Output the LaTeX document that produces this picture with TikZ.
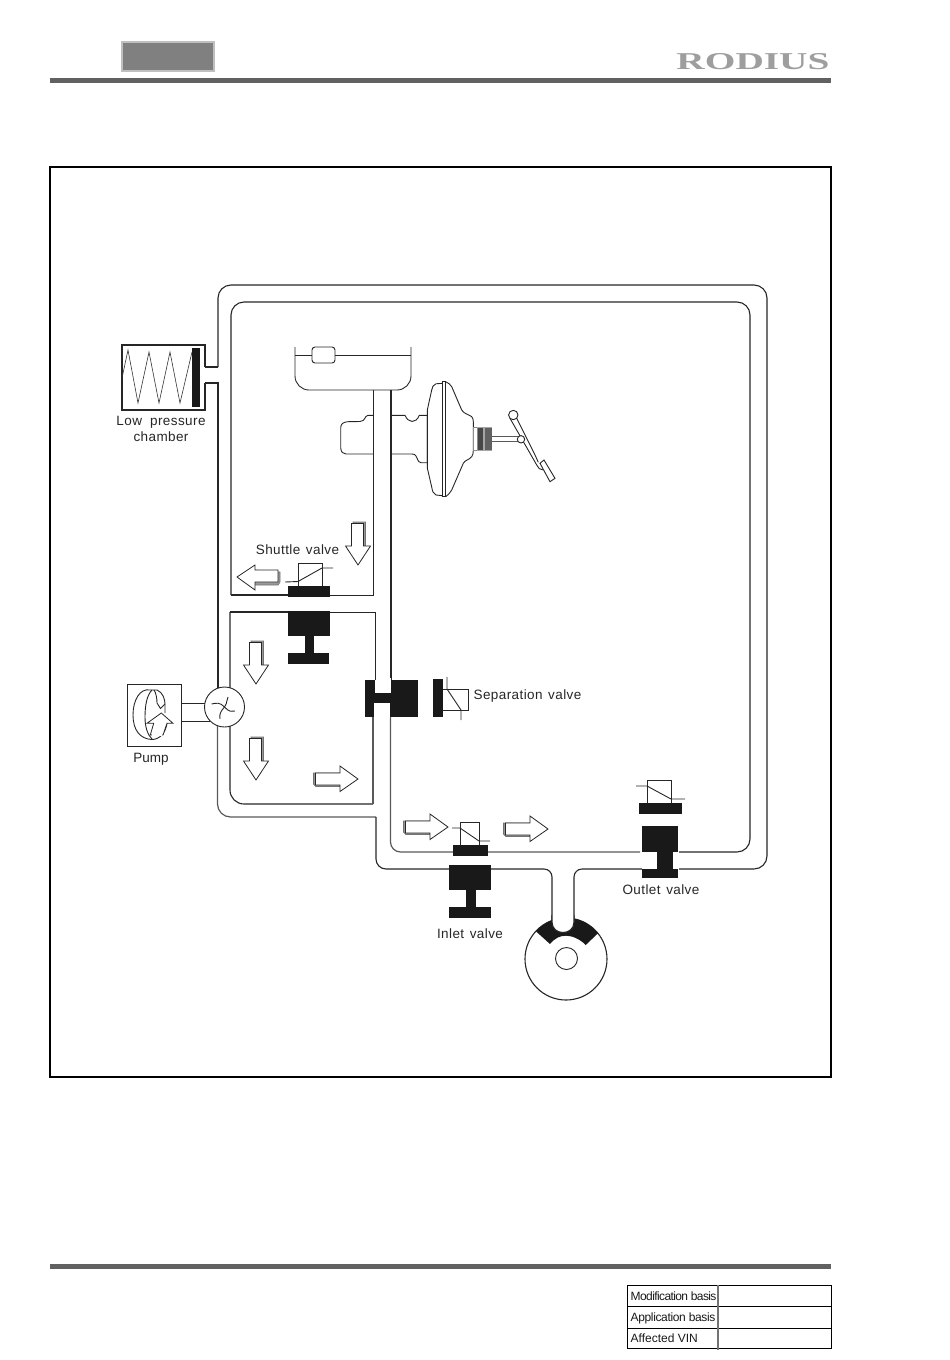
\documentclass[tikz,border=0pt]{standalone}
\usepackage{fontspec}
\usepackage{graphicx}
\setmainfont{Liberation Sans}
\newfontfamily\labelfont[LetterSpace=3]{Liberation Sans}
\newfontfamily\tablefont[LetterSpace=-5]{Liberation Sans}
\newfontfamily\tablefontb[LetterSpace=-3]{Liberation Sans}
\newfontfamily\logofont{Liberation Serif}
\newcommand{\wsp}{\hspace{1.5pt} }
\tikzset{
  pipe/.style={draw=black!85,line width=1.1pt},
  pipegrey/.style={draw=black!65,line width=1.2pt},
  thin/.style={draw=black!85,line width=0.9pt},
  blk/.style={fill=black!90,draw=none},
  lab/.style={font=\labelfont\fontsize{13.5}{16}\selectfont,inner sep=0pt,align=center,text=black!85},
  tab/.style={font=\tablefont\fontsize{12}{14}\selectfont,inner sep=0pt,anchor=west,text=black!90},
  arrowfront/.style={fill=white,draw=black!85,line width=0.8pt,line join=miter},
  arrowback/.style={fill=black!40,draw=black!55,line width=0.7pt},
}
\newcommand{\flowdown}[2]{%
  \begin{scope}[shift={(#1,#2)}]
   \path[arrowback] (-5,-43)--(7.5,-43)--(7.5,-19)--(5,-17)--cycle;
   \path[arrowfront] (-6.5,-41.5)--(5.5,-41.5)--(5.5,-19)--(12.5,-19)--(0,0)--(-12.5,-19)--(-6.5,-19)--cycle;
  \end{scope}}
\newcommand{\flowright}[2]{%
  \begin{scope}[shift={(#1,#2)}]
   \path[arrowback] (-44.5,-6)--(-18,-6)--(-18,7.5)--(-42,7.5)--(-44.5,5)--cycle;
   \path[arrowfront] (-42.5,-6)--(-18,-6)--(-18,-13)--(0,0)--(-18,12.5)--(-18,6)--(-42.5,6)--cycle;
  \end{scope}}
\newcommand{\flowleft}[2]{%
  \begin{scope}[shift={(#1,#2)}]
   \path[arrowback] (18,-7)--(43,-5)--(43,5)--(41,8)--(18,8)--cycle;
   \path[arrowfront] (0,0)--(18,-12)--(18,-7)--(41,-7)--(41,5)--(18,5)--(18,13)--cycle;
  \end{scope}}
\begin{document}
\begin{tikzpicture}[x=1pt,y=-1pt]
\useasboundingbox (0,0) rectangle (950,1360);
% header
\path[fill=black!50,draw=black!25,line width=1.5pt] (122,42) rectangle (214,71);
\fill[black!62] (50,78) rectangle (831,83);
\node[font=\logofont\bfseries\fontsize{20}{20}\selectfont,text=black!38,inner sep=0pt] (logo) at (753,62) {\resizebox{153pt}{16pt}{RODIUS}};
% frame
\draw[black,line width=1.5pt] (50,167) rectangle (831,1077);
% reservoir
\draw[thin,rounded corners=14pt] (295,347)--(295,390)--(411,390)--(411,347);
\draw[thin] (295,355)--(312,355) (335,355)--(411,355);
\draw[thin,rounded corners=3pt] (312,347) rectangle (335,363);
% master cylinder
\draw[thin] (373,415.3)--(368,415.3) .. controls (364,416) and (366,421) .. (360,421.5)--(348,421.7) .. controls (343,422) and (340.7,424) .. (340.7,428)--(340.7,448) .. controls (341,452) and (343,454) .. (346,454)--(373,454);
\draw[thin] (391,415.3)--(405,415.3) .. controls (408,423) and (416,424) .. (419.3,415.3)--(427.3,415.3)--(427.3,462.7)--(421,462.7) .. controls (417,462) and (418,458) .. (416,456) .. controls (415,454.5) and (414,454) .. (412,454)--(391,454);
% booster
\draw[thin] (442.7,383.3)--(436,383.8) .. controls (433,384.5) and (432.5,387) .. (431.7,390)--(427.3,410)--(427.3,468)--(431.7,487) .. controls (432.5,491) and (433,494) .. (436,495)--(442.7,495.7);
\draw[thin,fill=white] (442.7,381.7) rectangle (445.7,496.7);
\draw[thin] (445.7,381.7) .. controls (449,383) and (450,384.5) .. (451.7,386.7)--(461.7,410) .. controls (464,414) and (470,415) .. (471.7,416.7) .. controls (473,418) and (473.3,420) .. (473.3,421.7)--(473.3,450) .. controls (473.3,453) and (473,455) .. (471.7,456.7) .. controls (469,460) and (465,460) .. (463.3,463.3)--(451.7,490) .. controls (450,493) and (448,495) .. (445.7,496.7);
\draw[draw=black!45,line width=0.8pt] (473.3,427.3) rectangle (477.3,450);
\fill[black!72] (478,427.3) rectangle (483.3,450);
\fill[black!35] (483.3,427.3) rectangle (485,450);
\fill[black!62] (485,427.3) rectangle (491.7,450);
\draw[draw=black!35,line width=0.8pt] (477.3,427.3)--(491.7,427.3) (477.3,450)--(491.7,450);
\draw[draw=black!65,line width=0.9pt] (491.7,436.7)--(518,436.7) (491.7,441.7)--(518,441.7);
% pedal
\draw[thin] (516.7,418.3)--(535,455)--(538.3,462.3);
\draw[thin] (510,418.3)--(536.7,465) .. controls (538,468) and (540,470) .. (543.3,470);
\draw[thin,fill=white] (513.3,415) circle (4.7pt);
\draw[thin,fill=white] (521,439.3) circle (3.7pt);
\draw[thin,fill=white] (540,463.3)--(544,460)--(555,478.3)--(550,481.7)--cycle;
% low-pressure chamber
\draw[pipe] (205,367)--(205,345)--(122,345)--(122,410)--(205,410)--(205,383);
\draw[draw=black!80,line width=0.6pt] (122,378)--(128,350)--(138,403)--(149,352)--(159,403)--(170,352)--(180,403)--(192,352);
\fill[blk] (192,348) rectangle (200,407);
% pipes
\draw[pipe] (205,367)--(218,367);
\draw[pipe] (205,383)--(218,383)--(218,690);
\draw[pipe,rounded corners=13pt] (218,367)--(218,285)--(767,285)--(767,869)--(679,869);
\draw[pipegrey,rounded corners=13pt] (217.5,725)--(217.5,817)--(376,817);
\draw[pipe,rounded corners=10pt] (376,817)--(376,869)--(449,869);
\draw[pipe] (288,595)--(231,595);
\draw[pipe,rounded corners=13pt] (231,595)--(231,302)--(750,302)--(750,852)--(679,852);
\draw[thin] (330,595)--(373,595)--(373,390);
\draw[pipe] (391,390)--(391,680);
\draw[pipegrey,rounded corners=10pt] (390.5,716)--(390.5,852)--(640,852);
\draw[pipe] (288,612)--(230,612);
\draw[pipe,rounded corners=14pt] (230,612)--(230,804)--(373,804);
\draw[pipegrey] (373,804)--(373,716);
\draw[thin] (330,612)--(375,612)--(375,680);
\draw[pipe,rounded corners=8pt] (491,869)--(552,869)--(552,925);
\draw[pipe,rounded corners=8pt] (642,869)--(574,869)--(574,925);
% cam
\draw[pipe,fill=white] (566,959) circle (41pt);
\begin{scope}
  \clip (566,959) circle (41pt);
  \fill[blk] (525,918)--(536.7,932)--(550,944) .. controls (555,938) and (560,935.7) .. (566,935.7) .. controls (572,935.7) and (580,939) .. (585.7,945)--(598.3,933)--(610,918)--cycle;
\end{scope}
\fill[white] (552,915)--(552,922) .. controls (552,936) and (574,936) .. (574,922)--(574,915)--cycle;
\draw[pipe] (552,915)--(552,922) .. controls (552,936) and (574,936) .. (574,922)--(574,915);
\draw[thin,fill=white] (566.5,958.5) circle (11pt);
% shuttle valve
\draw[thin] (298,587)--(298,563)--(322,563)--(322,587);
\draw[thin] (285,582)--(298,581.5)--(322,568)--(333,568);
\fill[blk] (288,586) rectangle (330,597);
\fill[blk] (288,611) rectangle (330,636);
\fill[blk] (305,636) rectangle (314,653);
\fill[blk] (288,653) rectangle (329,664);
% separation valve
\fill[blk] (365,680) rectangle (418,717);
\fill[white] (375,678) rectangle (391,693);
\fill[white] (374,703) rectangle (390,718);
\draw[thin] (375,680)--(375,678) (391,680)--(391,678);
\fill[blk] (433,679) rectangle (443,717);
\draw[thin] (443,689)--(468,689)--(468,710)--(443,710);
\draw[thin] (447,677)--(447,689)--(461,710)--(461,720);
% pump
\draw[thin] (127,684) rectangle (181,746);
\draw[thin] (181,703)--(210,703) (181,721)--(210,721);
\draw[thin] (150,690) .. controls (140,688) and (133,700) .. (133,715) .. controls (133,730) and (140,739) .. (152,739.5);
\draw[thin] (152,690) .. controls (147,695) and (145,705) .. (145,717) .. controls (145,728) and (148,735) .. (152,739);
\draw[thin] (150,690)--(157,690) .. controls (163,692) and (165,700) .. (165,704)--(165,713);
\draw[thin] (154,690) .. controls (156,693) and (157,698) .. (157,703)--(160.5,708.5)--(165,704);
\draw[thin] (167,723) .. controls (166,732) and (160,739.5) .. (152,739.5);
\path[fill=white,draw=black!85,line width=0.8pt] (161.3,713)--(173,723.3)--(167,723.3)--(163,735)--(150.3,735)--(153.7,723.3)--(147,723.3)--cycle;
\draw[draw=white,line width=1.6pt] (152,735)--(162,735);
\draw[thin,fill=white] (224.5,707) circle (20pt);
\draw[thin] (224.5,707) .. controls (228,702) and (226,700) .. (228,697);
\draw[thin] (224.5,707) .. controls (220,702) and (216,703) .. (211.5,704);
\draw[thin] (224.5,707) .. controls (229,712) and (232,712) .. (235,711);
\draw[thin] (224.5,707) .. controls (221,711) and (219,714) .. (220,719);
% arrows
\flowdown{358}{565}
\flowdown{256}{684}
\flowdown{256}{780}
\flowright{358}{779}
\flowright{448}{827}
\flowright{548}{829}
\flowleft{237}{577}
% inlet valve
\draw[thin] (460,845)--(460,822)--(479,822)--(479,845);
\draw[thin] (452,828)--(460,828)--(479,841)--(490,841);
\fill[blk] (453,845) rectangle (488,856);
\fill[blk] (449,865) rectangle (491,890);
\fill[blk] (466,890) rectangle (476,907);
\fill[blk] (449,907) rectangle (491,918);
% outlet valve
\draw[thin] (647,803)--(647,780)--(671,780)--(671,803);
\draw[thin] (636,786)--(647,786)--(671,799)--(685,799);
\fill[blk] (639,803) rectangle (682,814);
\fill[blk] (642,826) rectangle (678,852);
\fill[blk] (657,852) rectangle (673,869);
\fill[blk] (642,869) rectangle (678,878);
% labels
\node[lab] (lowp) at (161,428.5) {Low\hspace{4pt} pressure\\chamber};
\node[lab] (shut) at (297.5,550) {Shuttle\wsp valve};
\node[lab] (sep) at (527.5,696.5) {Separation\wsp valve};
\node[lab,font=\fontsize{13.5}{16}\selectfont] (pumpl) at (151,759.5) {Pump};
\node[lab] (outl) at (661,890) {Outlet\wsp valve};
\node[lab] (inl) at (470,934) {Inlet\wsp valve};
% footer
\fill[black!62] (50,1264) rectangle (831,1269);
\draw[black,line width=1pt] (627.5,1285.5) rectangle (831.5,1348.5);
\draw[black,line width=1pt] (627.5,1306.5)--(831.5,1306.5) (627.5,1328.5)--(831.5,1328.5);
\draw[black!55,line width=2pt] (718,1285)--(718,1349.5);
\node[tab] (t1) at (630.5,1296.5) {Modification basis};
\node[tab,font=\tablefontb\fontsize{12}{14}\selectfont] (t2) at (630.5,1318.5) {Application basis};
\node[tab,font=\fontsize{12}{14}\selectfont] (t3) at (630.5,1338.5) {Affected VIN};
\end{tikzpicture}
\end{document}
